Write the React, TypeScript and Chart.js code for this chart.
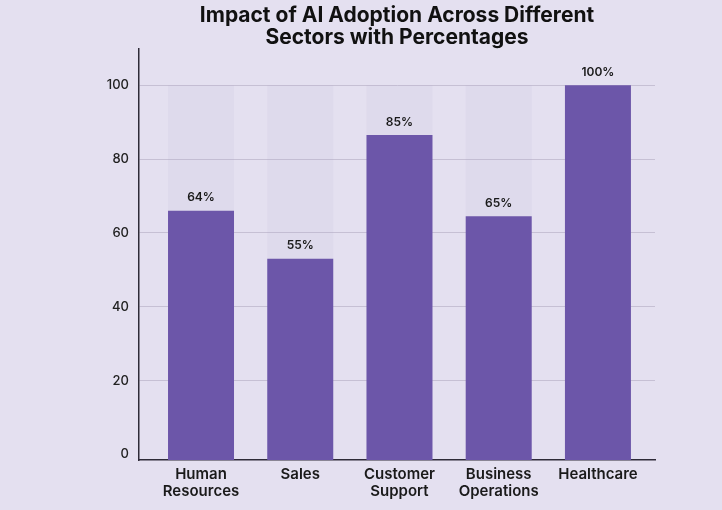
import { useEffect, useRef } from 'react';
import { Chart, registerables } from 'chart.js';

Chart.register(...registerables);

const titleLines = ['Impact of AI Adoption Across Different', 'Sectors with Percentages'];
const categories: string[][] = [
  ['Human', 'Resources'],
  ['Sales'],
  ['Customer', 'Support'],
  ['Business', 'Operations'],
  ['Healthcare'],
];
const barValues = [66, 53, 86.5, 64.5, 100];
const valueLabels = ['64%', '55%', '85%', '65%', '100%'];
const backdropValues = [100, 100, 100, 100, 100];
const yTicks = [0, 20, 40, 60, 80, 100];

const FONT = 'Inter, "Noto Sans", sans-serif';
const BG = '#e4e0f0';
const BAR = '#6c56a9';

const bgPlugin = {
  id: 'bgFill',
  beforeDraw(chart: any) {
    const { ctx, width, height } = chart;
    ctx.save();
    ctx.fillStyle = BG;
    ctx.fillRect(0, 0, width, height);
    ctx.restore();
  },
};

const valueLabelPlugin = {
  id: 'valueLabels',
  afterDatasetsDraw(chart: any) {
    const meta = chart.getDatasetMeta(1);
    const { ctx } = chart;
    ctx.save();
    ctx.font = `600 12px ${FONT}`;
    ctx.fillStyle = '#1a1a1a';
    ctx.textAlign = 'center';
    ctx.textBaseline = 'middle';
    meta.data.forEach((bar: any, i: number) => {
      ctx.fillText(valueLabels[i], bar.x, bar.y - 13);
    });
    ctx.restore();
  },
};

export default function App() {
  const ref = useRef<HTMLCanvasElement>(null);

  useEffect(() => {
    document.body.style.margin = '0';
    document.body.style.background = BG;
    const chart = new Chart(ref.current!, {
      type: 'bar',
      data: {
        datasets: [
          {
            label: 'backdrop',
            data: backdropValues.map((v, i) => ({ x: i, y: v })),
            backgroundColor: 'rgba(175,165,205,0.10)',
            base: -1.5,
            order: 2,
            grouped: false,
            categoryPercentage: 1,
            barPercentage: 0.665,
          } as any,
          {
            label: 'Adoption',
            data: barValues.map((v, i) => ({ x: i, y: v })),
            backgroundColor: BAR,
            base: -1.5,
            order: 1,
            grouped: false,
            categoryPercentage: 1,
            barPercentage: 0.665,
          } as any,
        ],
      },
      options: {
        responsive: false,
        animation: false,
        layout: { padding: { left: 0, right: 67, top: 0, bottom: 0 } },
        plugins: {
          legend: { display: false },
          tooltip: { enabled: false },
          title: {
            display: true,
            text: titleLines,
            fullSize: false,
            color: '#111111',
            font: { family: FONT, size: 21, weight: 'bold', lineHeight: 1.03 },
            padding: { top: 5, bottom: 0 },
          } as any,
        },
        scales: {
          x: {
            type: 'linear',
            offset: false,
            min: -0.625,
            max: 4.575,
            afterBuildTicks: (s: any) => {
              s.ticks = categories.map((_, i) => ({ value: i }));
            },
            afterFit: (s: any) => {
              s.height = 50;
            },
            ticks: {
              autoSkip: false,
              maxRotation: 0,
              padding: 6,
              color: '#1a1a1a',
              font: { family: FONT, size: 15, weight: 600, lineHeight: 1.13 } as any,
              callback: (v: any) => categories[Math.round(Number(v))] ?? '',
            },
            grid: { display: false, drawTicks: false },
            border: { display: true, color: '#2e2b38', width: 1.5 },
          },
          y: {
            min: -1.5,
            max: 110,
            afterBuildTicks: (s: any) => {
              s.ticks = yTicks.map((v) => ({ value: v }));
            },
            afterFit: (s: any) => {
              s.width = 139;
            },
            ticks: {
              padding: 10,
              color: '#222222',
              font: { family: FONT, size: 13, weight: 500 } as any,
            },
            grid: {
              drawTicks: false,
              color: (c: any) => (c.tick && c.tick.value === 0 ? 'rgba(0,0,0,0)' : '#c6c0d4'),
              lineWidth: 1,
            },
            border: { display: true, color: '#2e2b38', width: 1.5 },
          },
        },
      },
      plugins: [bgPlugin, valueLabelPlugin],
    });
    return () => chart.destroy();
  }, []);

  return (
    <div style={{ width: 722, height: 510, background: BG }}>
      <canvas ref={ref} width={722} height={510} />
    </div>
  );
}
